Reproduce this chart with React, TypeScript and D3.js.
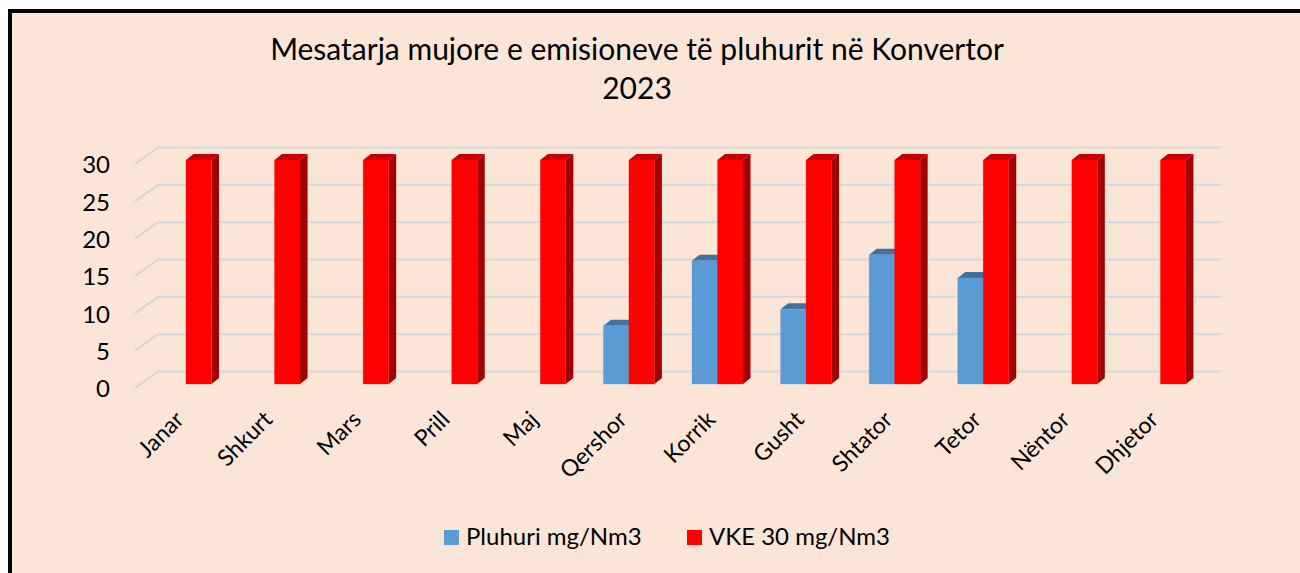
import React from "react";
import * as d3 from "d3";

const months = ["Janar", "Shkurt", "Mars", "Prill", "Maj", "Qershor", "Korrik", "Gusht", "Shtator", "Tetor", "Nëntor", "Dhjetor"];
const pluhuri: (number | null)[] = [null, null, null, null, null, 7.8, 16.5, 10.0, 17.3, 14.2, null, null];
const vke: number[] = [30, 30, 30, 30, 30, 30, 30, 30, 30, 30, 30, 30];
const yTicks = [0, 5, 10, 15, 20, 25, 30];
const seriesNames = ["Pluhuri mg/Nm3", "VKE 30 mg/Nm3"];

const W = 1300;
const H = 573;
const FONT = "Lato, 'Open Sans', sans-serif";

// pseudo-3D offsets (front floor -> bar plane -> back wall)
const BAR_DX = 6.7;
const BAR_DY = -4;
const BACK_DX = 23;
const BACK_DY = -16.5;
const SIDE_DX = 7.5;
const SIDE_DY = -6;

export default function App() {
    const x = d3.scaleBand<string>().domain(months).range([135, 1198]);
    const y = d3.scaleLinear().domain([0, 30]).range([388, 164]);
    const barW = 25.5;

    const colors = {
        blue: { front: "#5B9BD5", side: "#3F6F9C", top: "#43719D" },
        red: { front: "#FF0000", side: "#A30000", top: "#C40000" },
    };

    const bar = (x0: number, v: number, c: { front: string; side: string; top: string }, key: string) => {
        const yb = y(0) + BAR_DY;
        const yt = y(v) + BAR_DY;
        const x1 = x0 + barW;
        const top = d3.path();
        top.moveTo(x0, yt);
        top.lineTo(x0 + SIDE_DX, yt + SIDE_DY);
        top.lineTo(x1 + SIDE_DX, yt + SIDE_DY);
        top.lineTo(x1, yt);
        top.closePath();
        const side = d3.path();
        side.moveTo(x1, yt);
        side.lineTo(x1 + SIDE_DX, yt + SIDE_DY);
        side.lineTo(x1 + SIDE_DX, yb + SIDE_DY);
        side.lineTo(x1, yb);
        side.closePath();
        return (
            <g key={key}>
                <path d={side.toString()} fill={c.side} />
                <path d={top.toString()} fill={c.top} />
                <rect x={x0} y={yt} width={barW} height={yb - yt} fill={c.front} stroke={c.front} strokeOpacity={0.35} strokeWidth={0.8} />
            </g>
        );
    };

    return (
        <svg width={W} height={H} style={{ position: "absolute", left: 0, top: 0, background: "#ffffff" }}>
            <rect x={10} y={11} width={W + 20} height={H + 20} fill="#FBE5D6" stroke="#000" strokeWidth={4} />

            <text x={637} y={60} textAnchor="middle" fontFamily={FONT} fontSize={30} fill="#000">
                Mesatarja mujore e emisioneve të pluhurit në Konvertor
            </text>
            <text x={637} y={99} textAnchor="middle" fontFamily={FONT} fontSize={30} fill="#000">
                2023
            </text>

            {/* gridlines */}
            {yTicks.map((t) => (
                <g key={t}>
                    <line x1={135} y1={y(t)} x2={135 + BACK_DX} y2={y(t) + BACK_DY} stroke="#D3D8DC" strokeWidth={2} />
                    <line x1={135 + BACK_DX} y1={y(t) + BACK_DY} x2={1198 + BACK_DX} y2={y(t) + BACK_DY} stroke="#D3D8DC" strokeWidth={2} />
                </g>
            ))}

            {/* y axis labels */}
            {yTicks.map((t) => (
                <text key={t} x={110} y={y(t) + 1} dy="0.35em" textAnchor="end" fontFamily={FONT} fontSize={24} fill="#000">
                    {t}
                </text>
            ))}

            {/* bars */}
            {months.map((m, i) => {
                const cx = (x(m) as number) + x.bandwidth() / 2 + BAR_DX;
                const p = pluhuri[i];
                return (
                    <g key={m}>
                        {p != null && bar(cx - barW, p, colors.blue, "b")}
                        {bar(cx, vke[i], colors.red, "r")}
                    </g>
                );
            })}

            {/* x labels */}
            {months.map((m) => {
                const cx = (x(m) as number) + x.bandwidth() / 2;
                return (
                    <text key={m} transform={`translate(${cx + 6},${421}) rotate(-45)`} textAnchor="end" fontFamily={FONT} fontSize={23} fill="#000">
                        {m}
                    </text>
                );
            })}

            {/* legend */}
            <rect x={444} y={530} width={15} height={15} fill={colors.blue.front} />
            <text x={466} y={545} fontFamily={FONT} fontSize={24} fill="#000">{seriesNames[0]}</text>
            <rect x={687} y={530} width={15} height={15} fill={colors.red.front} />
            <text x={709} y={545} fontFamily={FONT} fontSize={24} fill="#000">{seriesNames[1]}</text>
        </svg>
    );
}
